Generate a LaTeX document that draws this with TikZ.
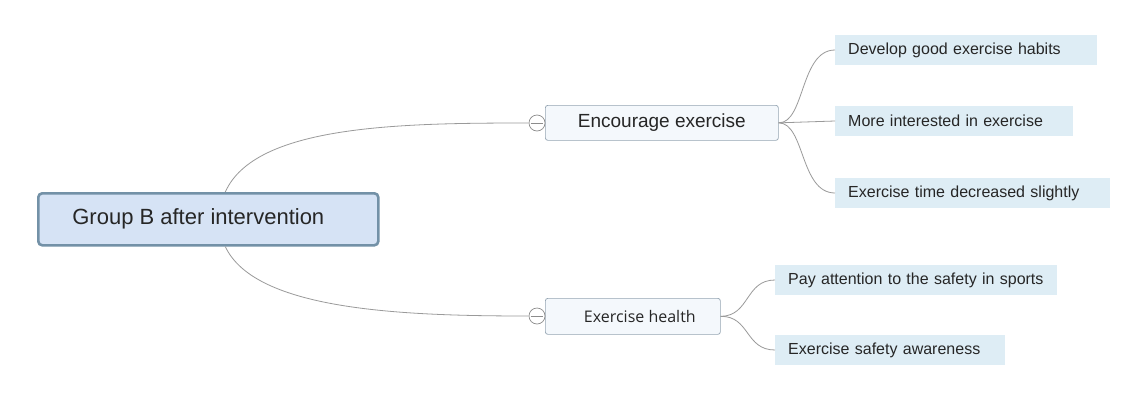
\documentclass[tikz,border=0pt]{standalone}
\usepackage{fontspec}
\setmainfont{Liberation Sans}
\newfontfamily\healthfont{Open Sans}
\begin{document}
\begin{tikzpicture}[x=1pt, y=-1pt,
  every node/.style={font=\fontsize{16}{18}\selectfont, text=black!85},
  rootbox/.style={draw=rootedge, line width=2.6pt, fill=rootfill, rounded corners=4pt,
    minimum width=340pt, minimum height=52pt, anchor=north west,
    font=\fontsize{22}{24}\selectfont},
  mainbox/.style={draw=boxedge, line width=0.7pt, fill=boxfill, rounded corners=2.5pt,
    anchor=north west, inner sep=0pt},
  leaf/.style={fill=leaffill, anchor=west, minimum height=30pt, inner xsep=13pt,
    inner ysep=0pt, align=left},
  fold/.style={circle, draw=foldgray, line width=0.7pt, fill=white, minimum size=16pt, inner sep=0pt},
  link/.style={draw=linkgray, line width=0.8pt},
]
\definecolor{rootedge}{HTML}{7391A7}
\definecolor{rootfill}{HTML}{D6E3F5}
\definecolor{boxedge}{HTML}{95A5B3}
\definecolor{boxfill}{HTML}{F4F8FC}
\definecolor{leaffill}{HTML}{DEEDF5}
\definecolor{foldgray}{HTML}{8C8C8C}
\definecolor{linkgray}{HTML}{9A9A9A}

\useasboundingbox[fill=white] (0,0) rectangle (1147,394);

% central topic
\node[rootbox] (root) at (37,192) {\hspace*{-20pt}Group B after intervention};

% main branches
\node[mainbox, minimum width=233pt, minimum height=35pt, font=\fontsize{19}{21}\selectfont] (enc) at (545,105) {Encourage exercise};
\node[mainbox, minimum width=175pt, minimum height=36pt, font=\healthfont\fontsize{16}{18}\selectfont] (hea) at (545,298) {\hspace*{14pt}Exercise health};

% collapse markers
\node[fold] (c1) at (537,123) {};
\node[fold] (c2) at (537,316) {};
\draw[foldgray, line width=0.7pt] ([xshift=2pt]c1.west) -- ([xshift=-2pt]c1.east);
\draw[foldgray, line width=0.7pt] ([xshift=2pt]c2.west) -- ([xshift=-2pt]c2.east);

% sub-topics
\node[leaf, text width=236pt] (l1) at (835,50) {Develop good exercise habits};
\node[leaf, text width=212pt] (l2) at (835,121) {More interested in exercise};
\node[leaf, text width=249pt] (l3) at (835,193) {Exercise time decreased slightly};
\node[leaf, text width=256pt] (l4) at (775,280) {Pay attention to the safety in sports};
\node[leaf, text width=204pt] (l5) at (775,350) {Exercise safety awareness};

% connectors
\coordinate (rt) at ([xshift=17pt]root.north);
\coordinate (rb) at ([xshift=17pt]root.south);
\path[link] (rt) .. controls (255,125) and (400,123) .. (c1.west);
\path[link] (rb) .. controls (255,310) and (400,316) .. (c2.west);

\path[link] (enc.east) .. controls (805,123) and (800,50) .. (l1.west);
\path[link] (enc.east) -- (l2.west);
\path[link] (enc.east) .. controls (805,123) and (800,193) .. (l3.west);
\path[link] (hea.east) .. controls (750,316) and (745,280) .. (l4.west);
\path[link] (hea.east) .. controls (750,316) and (745,350) .. (l5.west);
\end{tikzpicture}
\end{document}
